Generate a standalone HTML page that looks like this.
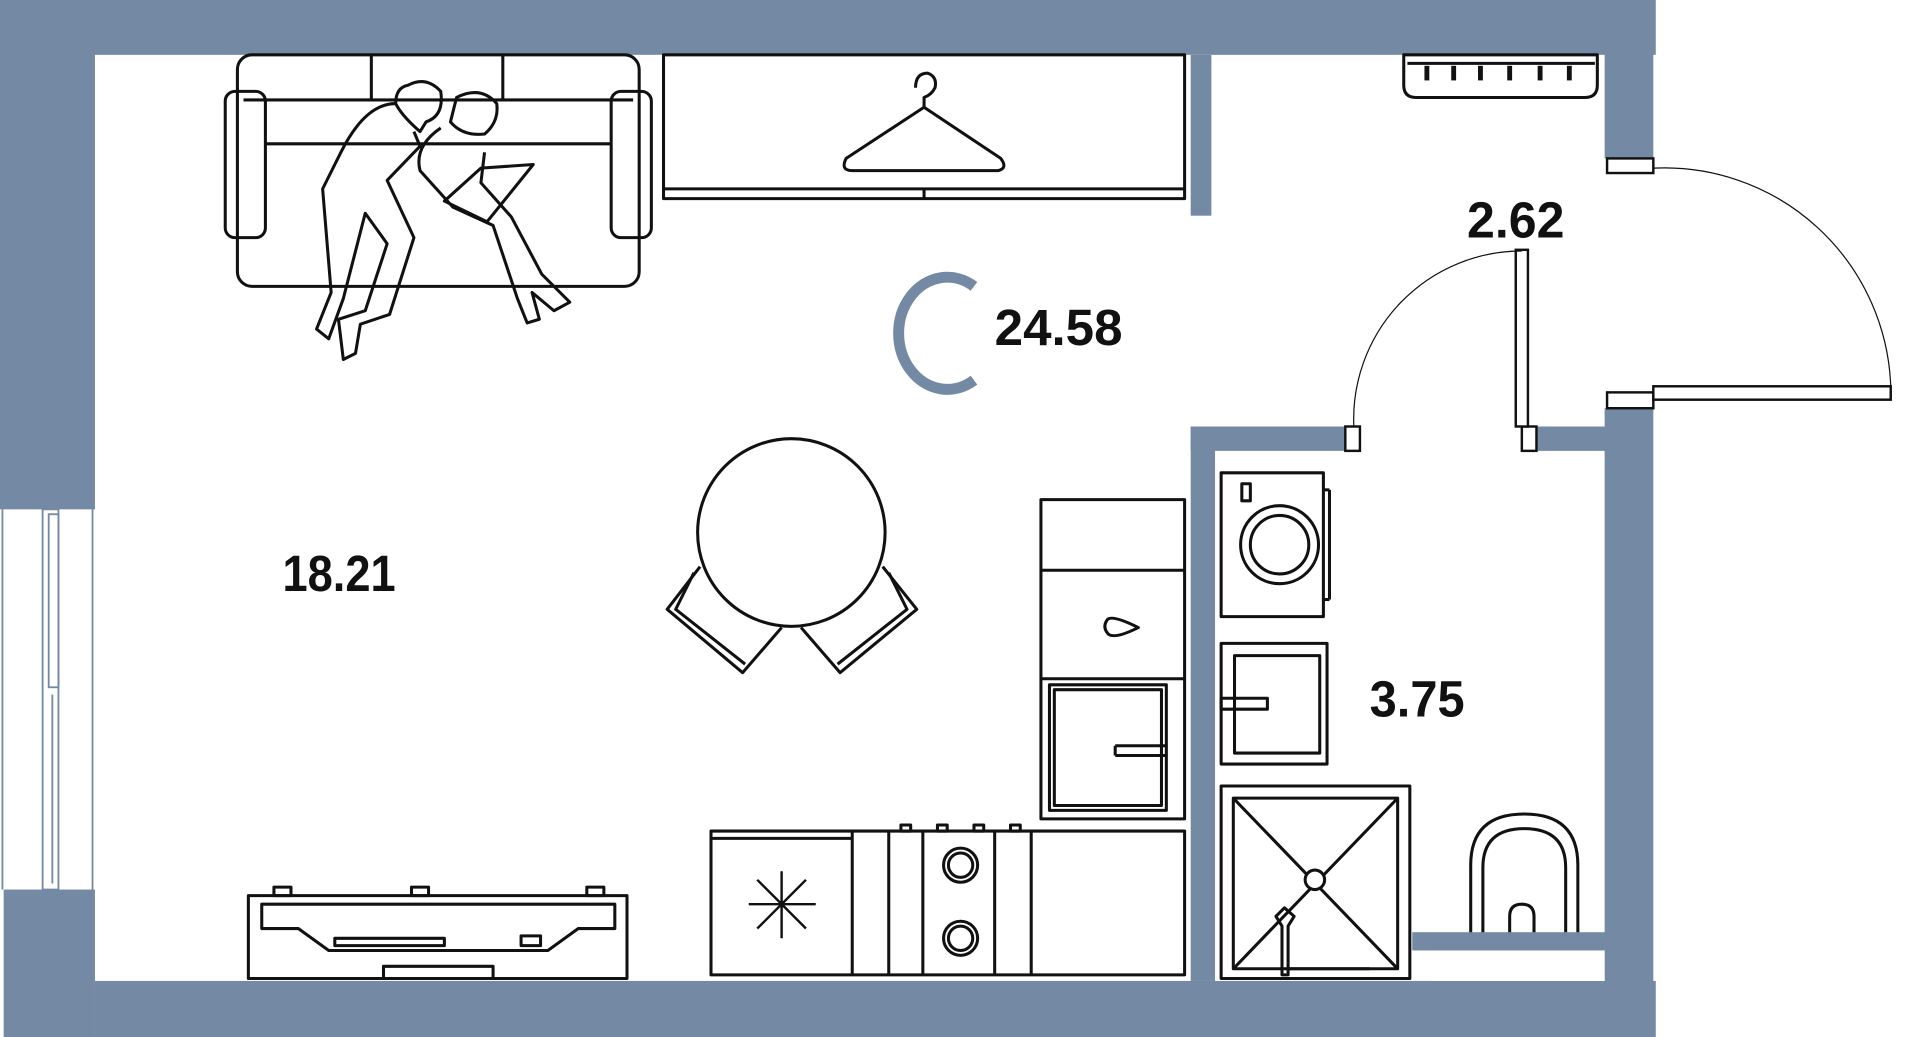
<!DOCTYPE html>
<html><head><meta charset="utf-8"><style>
html,body{margin:0;padding:0;background:#fff;overflow:hidden}
svg{display:block}
text{font-family:"Liberation Sans",sans-serif;font-weight:bold;fill:#111}
</style></head><body>
<svg width="1909" height="1037" viewBox="0 0 1568 851" preserveAspectRatio="none" xmlns="http://www.w3.org/2000/svg">
<g fill="#7489a3">
<rect x="0" y="0" width="1360" height="45"/>
<rect x="0" y="0" width="78" height="418"/>
<rect x="3" y="730" width="75" height="121"/>
<rect x="78" y="805" width="1282" height="46"/>
<rect x="1318" y="0" width="40" height="130"/>
<rect x="1318" y="335" width="40" height="516"/>
<rect x="978" y="45" width="17" height="132"/>
<rect x="978" y="350" width="130" height="20"/>
<rect x="1262" y="350" width="58" height="20"/>
<rect x="978" y="350" width="20" height="455"/>
<rect x="1160" y="765" width="160" height="15"/>
</g>
<rect x="1175" y="780" width="143" height="25" fill="#fff"/>
<g fill="none" stroke="#7489a3" stroke-width="1.5">
<rect x="35" y="418" width="13" height="312"/>
<rect x="40" y="422" width="8" height="142"/>
<line x1="43" y1="570" x2="43" y2="725"/>
<line x1="2" y1="418" x2="2" y2="730"/>
<line x1="76" y1="410" x2="76" y2="735"/>
</g>
<g fill="#fff" stroke="#111" stroke-width="2">
<rect x="1320" y="130" width="38" height="12"/>
<rect x="1320" y="322" width="38" height="13"/>
<rect x="1358" y="317" width="195" height="11"/>
<rect x="1105" y="350" width="12" height="20"/>
<rect x="1250" y="350" width="12" height="20"/>
<rect x="1245" y="205" width="10" height="145"/>
</g>
<g fill="none" stroke="#111" stroke-width="1">
<path d="M1358 138 A186 186 0 0 1 1553 317"/>
<path d="M1112 350 A138 138 0 0 1 1250 206"/>
</g>
<path d="M800 235 A40 46 0 1 0 800 312" fill="none" stroke="#7489a3" stroke-width="9"/>
<text x="817" y="283" font-size="42" textLength="105" lengthAdjust="spacingAndGlyphs">24.58</text>
<text x="1205" y="195" font-size="42" textLength="80" lengthAdjust="spacingAndGlyphs">2.62</text>
<text x="232" y="485" font-size="42" textLength="93" lengthAdjust="spacingAndGlyphs">18.21</text>
<text x="1125" y="588" font-size="42" textLength="78" lengthAdjust="spacingAndGlyphs">3.75</text>
<g fill="none" stroke="#111" stroke-width="2.5" stroke-linejoin="round">
<rect x="195" y="45" width="330" height="190" rx="12"/>
<rect x="185" y="75" width="33" height="120" rx="8"/>
<rect x="502" y="75" width="33" height="120" rx="8"/>
<line x1="200" y1="82" x2="520" y2="82"/>
<line x1="218" y1="118" x2="502" y2="118"/>
<line x1="305" y1="45" x2="305" y2="82"/>
<line x1="413" y1="45" x2="413" y2="82"/>
<path d="M335 70 Q350 62 362 75 Q365 95 350 100 L345 108 Q330 95 325 85 Q325 72 335 70Z"/>
<path d="M325 85 Q300 85 280 125 L265 155 L272 240 L260 270 L270 278 L282 245 L300 175 L318 200 L300 255 L278 262 L282 295 L292 290 L296 266 L320 258 L340 195 L318 148 L345 120 L340 108"/>
<path d="M375 80 Q395 70 408 85 Q410 100 398 110 Q380 112 370 100Z"/>
<path d="M362 105 Q340 120 345 140 L372 170 L405 185 L425 245 L433 265 L443 262 L437 240 L455 255 L468 248 L445 225 L420 178 L395 150 L398 125"/>
<path d="M365 165 L395 138 L438 135 L400 182 Z"/>
<rect x="545" y="45" width="428" height="118"/>
<line x1="545" y1="155" x2="973" y2="155"/>
<line x1="759" y1="155" x2="759" y2="163"/>
<path d="M752 72 Q752 60 762 60 Q770 63 768 72 Q765 78 759 80 L759 88 L695 130 Q690 140 700 140 L820 140 Q828 138 822 130 L759 88"/>
<path d="M1153 45 L1312 45 L1312 70 Q1312 80 1302 80 L1163 80 Q1153 80 1153 70 Z"/>
<line x1="1156" y1="52" x2="1310" y2="52"/>
<g stroke-width="4"><line x1="1172" y1="54" x2="1172" y2="66"/><line x1="1194" y1="54" x2="1194" y2="66"/><line x1="1216" y1="54" x2="1216" y2="66"/><line x1="1240" y1="54" x2="1240" y2="66"/><line x1="1265" y1="54" x2="1265" y2="66"/><line x1="1289" y1="54" x2="1289" y2="66"/></g>
<circle cx="650" cy="437" r="77"/>
<path d="M575 465 L548 500 L610 552 L642 515"/>
<path d="M570 470 L555 500 L612 545"/>
<path d="M725 465 L753 500 L690 552 L658 515"/>
<path d="M730 470 L745 500 L688 545"/>
<rect x="855" y="410" width="118" height="262"/>
<line x1="855" y1="468" x2="973" y2="468"/>
<line x1="855" y1="557" x2="973" y2="557"/>
<rect x="862" y="562" width="96" height="103"/>
<rect x="866" y="566" width="88" height="95"/>
<line x1="916" y1="612" x2="958" y2="612"/><line x1="916" y1="620" x2="958" y2="620"/><line x1="916" y1="612" x2="916" y2="620"/>
<path d="M910 508 Q915 505 935 515 Q915 525 910 520 Q905 514 910 508Z"/>
<rect x="584" y="682" width="389" height="118"/>
<line x1="584" y1="688" x2="700" y2="688"/>
<line x1="700" y1="682" x2="700" y2="800"/>
<line x1="730" y1="682" x2="730" y2="800"/>
<line x1="758" y1="682" x2="758" y2="800"/>
<line x1="817" y1="682" x2="817" y2="800"/>
<line x1="847" y1="682" x2="847" y2="800"/>
<circle cx="789" cy="710" r="14"/><circle cx="789" cy="710" r="10"/>
<circle cx="789" cy="770" r="14"/><circle cx="789" cy="770" r="10"/>
<rect x="740" y="677" width="8" height="5"/><rect x="770" y="677" width="8" height="5"/><rect x="800" y="677" width="8" height="5"/><rect x="830" y="677" width="8" height="5"/>
<g stroke-width="2"><line x1="642" y1="715" x2="642" y2="770"/><line x1="615" y1="742" x2="670" y2="742"/><line x1="622" y1="722" x2="662" y2="762"/><line x1="662" y1="722" x2="622" y2="762"/></g>
<rect x="204" y="735" width="311" height="68"/>
<path d="M215 742 L505 742 L505 762 L475 762 L450 780 L270 780 L245 762 L215 762 Z"/>
<rect x="275" y="770" width="90" height="6"/>
<rect x="428" y="768" width="16" height="8"/>
<rect x="225" y="728" width="14" height="7"/><rect x="338" y="728" width="14" height="7"/><rect x="482" y="728" width="14" height="7"/>
<rect x="315" y="793" width="90" height="10"/>
<rect x="1003" y="388" width="84" height="118"/>
<line x1="1087" y1="402" x2="1092" y2="402"/><line x1="1092" y1="402" x2="1092" y2="492"/><line x1="1087" y1="492" x2="1092" y2="492"/>
<circle cx="1051" cy="447" r="32"/><circle cx="1051" cy="447" r="24"/>
<rect x="1020" y="397" width="7" height="14"/>
<rect x="1003" y="528" width="87" height="99"/>
<rect x="1014" y="538" width="70" height="80"/>
<rect x="1003" y="573" width="38" height="9"/>
<rect x="1003" y="645" width="155" height="158"/>
<rect x="1013" y="655" width="135" height="140"/>
<line x1="1013" y1="655" x2="1148" y2="795"/><line x1="1148" y1="655" x2="1013" y2="795"/>
<circle cx="1080" cy="722" r="8" fill="#fff"/>
<path d="M1048 752 L1055 745 L1063 752 L1058 760 L1058 800 L1053 800 L1053 760 Z"/>
<line x1="1058" y1="795" x2="1125" y2="795"/>
<path d="M1208 765 L1208 710 Q1208 668 1252 668 Q1296 668 1296 710 L1296 765"/>
<path d="M1218 765 L1218 712 Q1218 680 1252 680 Q1286 680 1286 712 L1286 765"/>
<path d="M1240 765 L1240 752 Q1240 742 1250 742 Q1260 742 1260 752 L1260 765"/>
</g>
</svg>
</body></html>
